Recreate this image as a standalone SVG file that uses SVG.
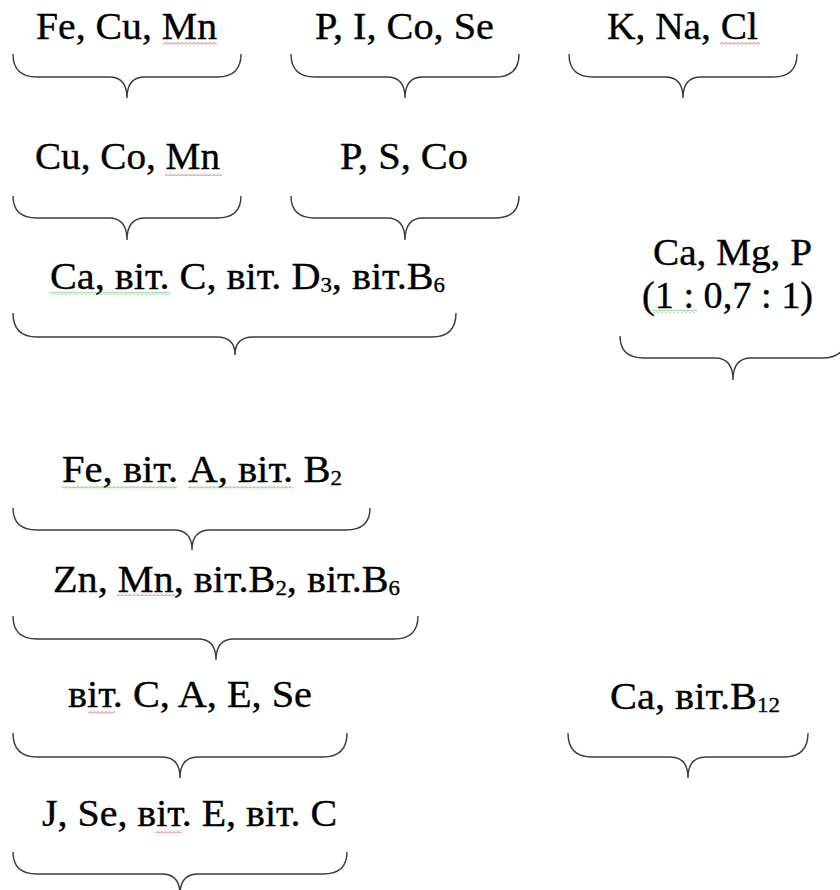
<svg xmlns="http://www.w3.org/2000/svg" width="840" height="890" viewBox="0 0 840 890">
<style>
.t{font-family:'Liberation Serif','Times New Roman',serif;font-size:37px;fill:#000;stroke:#000;stroke-width:0.35}
.s{font-size:21px}
.b{fill:none;stroke:#3c3c3c;stroke-width:1.4}
</style>
<defs>
<pattern id="wr" width="4" height="3" patternUnits="userSpaceOnUse"><path d="M0,2.5 L2,0.5 L4,2.5" fill="none" stroke="#e33" stroke-width="0.8"/></pattern>
<pattern id="wg" width="4" height="3" patternUnits="userSpaceOnUse"><path d="M0,2.5 L2,0.5 L4,2.5" fill="none" stroke="#3a3" stroke-width="0.8"/></pattern>
</defs>
<rect width="840" height="890" fill="#fff"/>

<g id="n1"><text class="t" x="36" y="39" textLength="181" lengthAdjust="spacingAndGlyphs">Fe, Cu, Mn</text>
<path class="b" d="M13,54 Q13,77 37,77 H109 Q127,77 127,98 Q127,77 145,77 H217 Q241,77 241,54"/></g>
<g id="n2"><text class="t" x="315" y="39" textLength="179" lengthAdjust="spacingAndGlyphs">P, I, Co, Se</text>
<path class="b" d="M291,54 Q291,77 315,77 H387 Q405,77 405,98 Q405,77 423,77 H495 Q519,77 519,54"/></g>
<g id="n3"><text class="t" x="607" y="39" textLength="151" lengthAdjust="spacingAndGlyphs">K, Na, Cl</text>
<path class="b" d="M569,54 Q569,77 593,77 H665 Q683,77 683,98 Q683,77 701,77 H773 Q797,77 797,54"/></g>

<g id="n4"><text class="t" x="35" y="169" textLength="185" lengthAdjust="spacingAndGlyphs">Cu, Co, Mn</text>
<path class="b" d="M13,196 Q13,218 37,218 H109 Q127,218 127,240 Q127,218 145,218 H217 Q241,218 241,196"/></g>
<g id="n5"><text class="t" x="340" y="169" textLength="128" lengthAdjust="spacingAndGlyphs">P, S, Co</text>
<path class="b" d="M291,196 Q291,218 315,218 H387 Q405,218 405,240 Q405,218 423,218 H495 Q519,218 519,196"/></g>

<g id="n6"><text class="t" x="50" y="289" textLength="395" lengthAdjust="spacingAndGlyphs">Ca, віт. C, віт. D<tspan class="s" dy="3">3</tspan><tspan dy="-3">, віт.B</tspan><tspan class="s" dy="3">6</tspan></text>
<path class="b" d="M13,313 Q13,337 37,337 H217 Q235,337 235,355 Q235,337 253,337 H432 Q456,337 456,313"/></g>

<g id="n7"><text class="t" x="653" y="265" textLength="159" lengthAdjust="spacingAndGlyphs">Ca, Mg, P</text>
<text class="t" x="642" y="308" textLength="171" lengthAdjust="spacingAndGlyphs">(1 : 0,7 : 1)</text>
<path class="b" d="M620,336 Q620,358 644,358 H715 Q733,358 733,380 Q733,358 751,358 H822 Q846,358 846,336"/></g>

<g id="n8"><text class="t" x="62" y="482" textLength="280" lengthAdjust="spacingAndGlyphs">Fe, віт. A, віт. B<tspan class="s" dy="3">2</tspan></text>
<path class="b" d="M13,508 Q13,530 37,530 H174 Q192,530 192,550 Q192,530 210,530 H346 Q370,530 370,508"/></g>

<g id="n9"><text class="t" x="53" y="592" textLength="347" lengthAdjust="spacingAndGlyphs">Zn, Mn, віт.B<tspan class="s" dy="3">2</tspan><tspan dy="-3">, віт.B</tspan><tspan class="s" dy="3">6</tspan></text>
<path class="b" d="M13,616 Q13,639 37,639 H198 Q216,639 216,660 Q216,639 234,639 H394 Q418,639 418,616"/></g>

<g id="n10"><text class="t" x="68" y="707" textLength="244" lengthAdjust="spacingAndGlyphs">віт. C, A, E, Se</text>
<path class="b" d="M13,733 Q13,757 37,757 H162 Q180,757 180,778 Q180,757 198,757 H323 Q347,757 347,733"/></g>

<g id="n11"><text class="t" x="610" y="709" textLength="170" lengthAdjust="spacingAndGlyphs">Ca, віт.B<tspan class="s" dy="3">12</tspan></text>
<path class="b" d="M568,733 Q568,757 592,757 H670 Q688,757 688,778 Q688,757 706,757 H784 Q808,757 808,733"/></g>

<g id="n12"><text class="t" x="42" y="826" textLength="295" lengthAdjust="spacingAndGlyphs">J, Se, віт. E, віт. C</text>
<path class="b" d="M13,852 Q13,874 37,874 H162 Q180,874 180,895 Q180,874 198,874 H323 Q347,874 347,852"/></g>

<g id="squiggles">
<rect x="163" y="42" width="54" height="3" fill="url(#wr)"/>
<rect x="720" y="42" width="40" height="3" fill="url(#wr)"/>
<rect x="165" y="173" width="57" height="3" fill="url(#wr)"/>
<rect x="50" y="292" width="120" height="3" fill="url(#wg)"/>
<rect x="652" y="310" width="45" height="3" fill="url(#wg)"/>
<rect x="62" y="486" width="115" height="3" fill="url(#wg)"/>
<rect x="188" y="486" width="105" height="3" fill="url(#wg)"/>
<rect x="117" y="593" width="58" height="3" fill="url(#wr)"/>
<rect x="88" y="711" width="27" height="3" fill="url(#wr)"/>
<rect x="155" y="830" width="27" height="3" fill="url(#wr)"/>
</g>
</svg>
